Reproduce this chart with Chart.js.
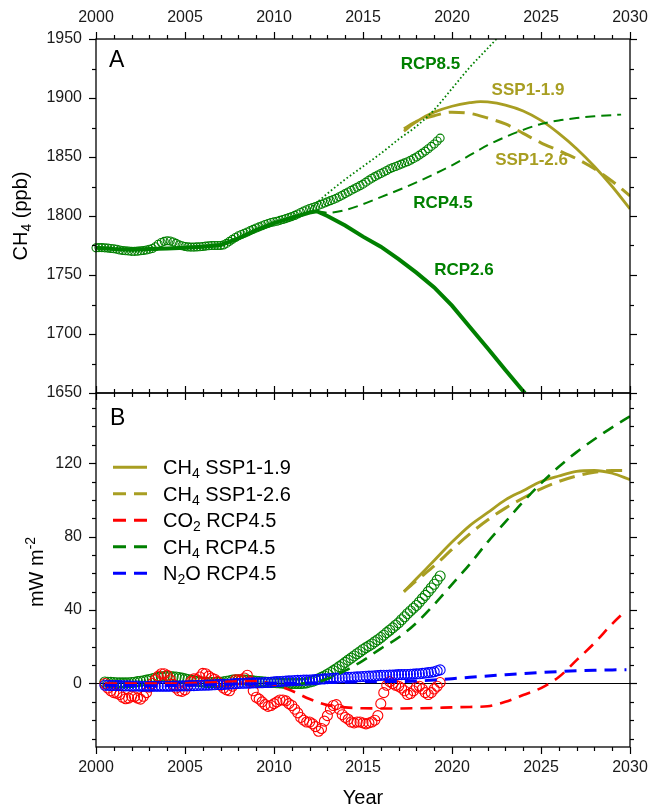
<!DOCTYPE html>
<html><head><meta charset="utf-8">
<script src="https://cdn.jsdelivr.net/npm/chart.js@4.4.0/dist/chart.umd.min.js"></script>
<style>
html,body{margin:0;padding:0;background:#fff;width:648px;height:807px;overflow:hidden}
#wrap{position:relative;width:648px;height:807px}
canvas{position:absolute;left:0}
#cA{top:0}
#cB{top:366px}
</style></head><body>
<div id="wrap"><canvas id="cA" width="648" height="420"></canvas><canvas id="cB" width="648" height="441"></canvas></div>
<script>
// ---------------- DATA ----------------
const xTicks = [2000, 2005, 2010, 2015, 2020, 2025, 2030];
const yTicksA = [1650, 1700, 1750, 1800, 1850, 1900, 1950];
const yTicksB = [0, 40, 80, 120];

// Panel A: observed CH4 (ppb), every 2 months from 2000.0
const obsStartA = 2000.0;
const obsCH4A = [
1773.0,1773.2,1773.2,1773.0,1772.8,1772.5,
1772.2,1771.8,1771.2,1770.8,1770.5,1770.3,
1770.0,1770.0,1770.2,1770.5,1770.8,1771.2,
1771.8,1772.5,1774.0,1776.0,1777.5,1778.5,
1779.0,1778.8,1778.0,1776.8,1775.5,1774.8,
1774.2,1773.8,1773.6,1773.6,1773.8,1774.0,
1774.2,1774.5,1774.8,1775.0,1775.0,1775.0,
1775.0,1775.5,1776.8,1778.5,1780.2,1781.8,
1783.2,1784.3,1785.4,1786.5,1787.6,1788.7,
1789.8,1790.8,1791.8,1792.8,1793.7,1794.5,
1795.0,1795.6,1796.3,1797.0,1797.8,1798.6,
1799.5,1800.5,1801.7,1803.0,1804.2,1805.3,
1806.3,1807.2,1808.1,1809.0,1810.0,1811.0,
1812.0,1813.0,1814.0,1815.0,1816.3,1817.6,
1819.0,1820.3,1821.7,1823.0,1824.4,1825.7,
1827.0,1828.7,1830.4,1832.0,1833.4,1834.7,
1836.0,1837.3,1838.6,1840.0,1841.0,1842.0,
1843.0,1844.0,1845.0,1846.0,1847.3,1848.6,
1850.0,1851.6,1853.3,1855.0,1857.0,1859.0,
1861.0,1863.5,1866.0];

const rcp26Years = [2000,2001,2002,2003,2004,2005,2006,2007,2008,2009,2010,2011,2012,2012.4,2013,2014,2015,2016,2017,2018,2019,2020,2021,2022,2023,2024,2024.1];
const rcp26CH4  = [1773,1772,1771.5,1772,1772.5,1773,1774,1775.5,1781,1788,1794,1798.5,1803,1804,1800,1792,1782.5,1774,1763.5,1752,1739.5,1724,1706,1688,1669.5,1651.5,1650];

const rcp45Years = [2012.4,2013,2014,2015,2016,2017,2018,2019,2020,2021,2022,2023,2024,2025,2026,2027,2028,2029,2029.5];
const rcp45CH4  = [1804,1802.8,1805,1810,1816,1822,1828.5,1835.5,1843,1851.5,1860,1867,1873,1878,1881,1883,1884.5,1885.5,1886];

const rcp85Years = [2012.0,2013,2014,2015,2016,2017,2018,2019,2020,2021,2022,2023];
const rcp85CH4  = [1806,1819,1831,1842,1853,1865,1876,1890,1908,1926,1942,1958];

const ssp119Years = [2017.3,2018,2019,2020,2021,2021.6,2022,2023,2024,2025,2026,2027,2028,2029,2030];
const ssp119CH4  = [1872,1880,1888,1893,1896,1897,1896.7,1894,1889,1881,1870,1857,1842,1825,1806];

const ssp126Years = [2017.3,2018,2019,2020,2021,2022,2023,2024,2025,2026,2027,2028,2029,2030];
const ssp126CH4  = [1874,1880,1885,1888,1887,1883,1878,1870,1862,1855.5,1848.5,1840,1829.5,1817];

// Panel B: observed radiative forcing trends (mW m-2), every 2 months from 2000.5
const obsStartB = 2000.5;
const obsCH4B = [
0.8,0.7,0.6,
0.5,0.4,0.3,0.3,0.3,0.4,
0.5,0.7,1.0,1.2,1.5,1.8,
2.2,2.6,3.0,3.3,3.6,3.8,
3.8,3.8,3.6,3.5,3.2,2.9,
2.5,2.2,1.8,1.5,1.2,1.0,
0.8,0.6,0.5,0.5,0.5,0.6,
0.7,0.9,1.2,1.5,1.8,2.0,
2.0,2.0,1.9,1.8,1.6,1.4,
1.2,1.0,0.9,0.8,0.7,0.6,
0.5,0.4,0.3,0.2,0.1,0.0,
0.0,0.0,0.0,0.0,0.1,0.3,
0.8,1.2,1.8,2.5,3.3,4.1,
5.0,6.0,7.0,8.0,9.2,10.3,
11.5,12.7,13.8,15.0,16.2,17.3,
18.5,19.5,20.5,21.5,22.7,23.8,
25.0,26.3,27.7,29.0,30.3,31.7,
33.0,34.7,36.3,38.0,39.5,41.0,
42.5,44.3,46.2,48.0,50.0,52.0,
54.0,56.3,58.5];
const obsCO2B = [
0,-2.5,-4,
-5,-5.3,-6,-7.5,-8.3,-8,
-7,-7.2,-8,-8.5,-7,-5,
-2,0,2,4,5.3,5.3,
4.5,2,-0.5,-2.5,-4,-4.3,
-3.5,-1,1,2.5,2,3.5,
5.5,5.3,4,3,2.3,1,
-1,-2.5,-3.5,-4,-1.5,2,
2,2,3,4.5,1,-4,
-7.5,-8.5,-10,-11.5,-12.5,-12,
-11,-10,-9,-9,-9.5,-11,
-12,-14,-16,-18.5,-20,-21,
-21,-22,-23.5,-26,-24.5,-20.5,
-17.5,-14,-12,-11.5,-14,-17,
-18.5,-19.5,-21,-21.5,-21,-21,
-21.5,-22,-21.5,-21,-20,-17.5,
-11,-5,-1,1,0,-1,
-1.5,-2.5,-4,-6,-5.5,-4,
-2,-1.5,-3,-5,-6,-5,
-3,-1.5,0.5];
const obsN2OB = [
-1.0,-1.0,-1.1,
-1.1,-1.2,-1.2,-1.3,-1.3,-1.3,
-1.4,-1.4,-1.4,-1.5,-1.5,-1.5,
-1.5,-1.5,-1.5,-1.5,-1.5,-1.5,
-1.5,-1.5,-1.4,-1.4,-1.4,-1.3,
-1.3,-1.3,-1.2,-1.2,-1.1,-1.0,
-1.0,-0.9,-0.9,-0.8,-0.7,-0.6,
-0.6,-0.5,-0.4,-0.3,-0.2,-0.1,
0.0,0.1,0.1,0.2,0.2,0.3,
0.3,0.4,0.4,0.5,0.5,0.6,
0.9,1.0,1.1,1.2,1.3,1.4,
1.5,1.6,1.7,1.7,1.8,1.8,
1.9,2.0,2.1,2.3,2.4,2.5,
2.6,2.7,2.8,2.9,3.0,3.1,
3.2,3.3,3.4,3.5,3.6,3.7,
3.8,3.9,4.0,4.1,4.2,4.3,
4.4,4.5,4.5,4.6,4.6,4.7,
4.8,4.8,4.9,4.9,5.0,5.1,
5.2,5.3,5.5,5.7,5.9,6.1,
6.4,6.9,7.4];

const b119Years = [2017.3,2018,2019,2020,2021,2022,2023,2024,2025,2026,2027,2028,2029,2030];
const b119CH4  = [50,57,67,77,86,93,100,105,110,113,115.5,116,114.5,111];
const b126Years = [2017.3,2018,2019,2020,2021,2022,2023,2024,2025,2026,2027,2028,2029,2030];
const b126CH4  = [50,56,64,73,81.5,89,95.5,101,106,110,113,115,116,116];
const b45CH4Years = [2011.5,2012.3,2013,2014,2015,2016,2017,2018,2019,2020,2021,2022,2023,2024,2025,2026,2027,2028,2029,2030];
const b45CH4  = [0,0.5,2.5,7,12.5,19,25,33,43,54,65,77,88,99,109,118,126,133,139.5,145.5];
const b45CO2Years = [2000.5,2002,2004,2006,2007,2008,2009,2010,2011,2012,2013,2014,2015,2016,2017,2018,2019,2020,2021,2022,2023,2024,2025,2026,2027,2028,2029,2029.8];
const b45CO2  = [0,0,0,0.3,0.7,1.2,1.2,-0.5,-4,-8.5,-11.8,-13,-13.5,-13.6,-13.6,-13.5,-13.3,-13,-12.8,-12.4,-10,-6.3,-2.5,3.5,12.7,22,32.5,40];
const b45N2OYears = [2000.5,2003,2006,2008,2010,2012,2014,2016,2018,2019,2020,2021,2022,2023,2024,2025,2026,2027,2028,2029,2029.8];
const b45N2O  = [-1,-1.2,-0.8,-0.3,0,0.3,0.7,1.0,1.3,1.9,2.6,3.4,4.1,4.8,5.4,6.0,6.5,6.9,7.2,7.4,7.5];

// ---------------- STYLE / HELPERS ----------------
const FONT = '"Liberation Sans", Arial, Helvetica, sans-serif';
Chart.defaults.font.family = FONT;
const GREEN = '#008000', OLIVE = '#a89e22', RED = '#ff0000', BLUE = '#0000ff';
const pts = (xs, ys) => xs.map((x, i) => ({x: x, y: ys[i]}));
const regYears = (start, n) => Array.from({length: n}, (_, i) => start + i / 6);

function richText(ctx, segs, x, y, align, size, color) {
  ctx.save();
  ctx.fillStyle = color || '#000';
  ctx.textBaseline = 'alphabetic';
  ctx.textAlign = 'left';
  const fnt = (s) => s.sub || s.sup ? (size * 0.7) + 'px ' + FONT : (s.bold ? 'bold ' : '') + size + 'px ' + FONT;
  let total = 0;
  segs.forEach(s => { ctx.font = fnt(s); s.w = ctx.measureText(s.t).width; total += s.w; });
  let cx = align === 'center' ? x - total / 2 : x;
  segs.forEach(s => {
    ctx.font = fnt(s);
    const dy = s.sub ? size * 0.2 : (s.sup ? -size * 0.42 : 0);
    ctx.fillText(s.t, cx, y + dy);
    cx += s.w;
  });
  ctx.restore();
}

function tickSet(majors, lo, hi, step) {
  const m = [];
  for (let v = lo; v <= hi + 1e-9; v += step) { if (!majors.some(t => Math.abs(t - v) < 1e-6)) m.push(v); }
  return m;
}
function drawTickMarks(chart, scaleId, side, majors, minors) {
  const s = chart.scales[scaleId], a = chart.chartArea, ctx = chart.ctx;
  ctx.save(); ctx.strokeStyle = '#000'; ctx.lineWidth = 1.2;
  const one = (v, len) => {
    const p = Math.round(s.getPixelForValue(v)) + 0.5;
    ctx.beginPath();
    if (side === 'top') { ctx.moveTo(p, a.top); ctx.lineTo(p, a.top - len); }
    else if (side === 'bottom') { ctx.moveTo(p, a.bottom); ctx.lineTo(p, a.bottom + len); }
    else if (side === 'left') { ctx.moveTo(a.left, p); ctx.lineTo(a.left - len, p); }
    else { ctx.moveTo(a.right, p); ctx.lineTo(a.right + len, p); }
    ctx.stroke();
  };
  majors.forEach(v => one(v, 7));
  minors.forEach(v => one(v, 4));
  ctx.restore();
}
function drawXLabels(chart, yCenter) {
  const s = chart.scales.x, ctx = chart.ctx;
  ctx.save(); ctx.fillStyle = '#1a1a1a'; ctx.font = '16px ' + FONT;
  ctx.textAlign = 'center'; ctx.textBaseline = 'middle';
  xTicks.forEach(v => ctx.fillText(String(v), s.getPixelForValue(v), yCenter));
  ctx.restore();
}
function drawFrame(chart) {
  const a = chart.chartArea, ctx = chart.ctx;
  ctx.save(); ctx.strokeStyle = '#000'; ctx.lineWidth = 1.3;
  ctx.strokeRect(a.left, a.top, a.right - a.left, a.bottom - a.top);
  ctx.restore();
}
function xScale(pos, h) {
  return {
    type: 'linear', position: pos, min: 2000, max: 2030,
    afterBuildTicks: s => { s.ticks = xTicks.map(v => ({value: v})); },
    ticks: {display: false},
    grid: {display: false, drawTicks: false}, border: {display: false},
    afterFit: s => { s.height = h; }
  };
}
function yScale(pos, w, lo, hi, tks, labels) {
  return {
    type: 'linear', position: pos, min: lo, max: hi,
    afterBuildTicks: s => { s.ticks = tks.map(v => ({value: v})); },
    ticks: {display: labels, callback: v => String(v), padding: 14, font: {size: 16}, color: '#1a1a1a', autoSkip: false},
    grid: {display: false, drawTicks: false}, border: {display: false},
    afterFit: s => { s.width = w; }
  };
}
function lineDs(data, color, width, dash, order, mode) {
  return {data: data, showLine: true, borderColor: color, borderWidth: width, borderDash: dash || [],
    pointRadius: 0, fill: false, order: order, clip: 0,
    tension: mode === 'straight' ? 0 : 0.4, cubicInterpolationMode: mode === 'straight' ? 'default' : 'monotone'};
}
function obsDs(data, color, r, order) {
  return {data: data, showLine: false, pointStyle: 'circle', pointRadius: r, pointBorderWidth: 1.1,
    pointBorderColor: color, pointBackgroundColor: 'rgba(0,0,0,0)', order: order, clip: false};
}

// ---------------- PANEL A ----------------
const labelsA = [
  {t: 'RCP8.5', x: 2018.79, y: 1929.2, c: GREEN},
  {t: 'SSP1-1.9', x: 2024.27, y: 1907.6, c: OLIVE},
  {t: 'SSP1-2.6', x: 2024.47, y: 1848.3, c: OLIVE},
  {t: 'RCP4.5', x: 2019.49, y: 1811.4, c: GREEN},
  {t: 'RCP2.6', x: 2020.67, y: 1754.7, c: GREEN}
];
const decorA = {
  id: 'decorA',
  afterDatasetsDraw(chart) {
    const ctx = chart.ctx, a = chart.chartArea, sx = chart.scales.x, sy = chart.scales.y;
    drawFrame(chart);
    const minX = tickSet(xTicks, 2000, 2030, 1);
    drawTickMarks(chart, 'x', 'top', xTicks, minX);
    drawTickMarks(chart, 'x', 'bottom', xTicks, minX);
    const minY = tickSet(yTicksA, 1650, 1950, 25);
    drawTickMarks(chart, 'y', 'left', yTicksA, minY);
    drawTickMarks(chart, 'y', 'right', yTicksA, minY);
    drawXLabels(chart, a.top - 21);
    ctx.save();
    ctx.font = 'bold 17px ' + FONT; ctx.textAlign = 'center'; ctx.textBaseline = 'middle';
    labelsA.forEach(l => { ctx.fillStyle = l.c; ctx.fillText(l.t, sx.getPixelForValue(l.x), sy.getPixelForValue(l.y) + 1); });
    ctx.fillStyle = '#000'; ctx.font = '23px ' + FONT; ctx.textAlign = 'left'; ctx.textBaseline = 'alphabetic';
    ctx.fillText('A', a.left + 13, a.top + 27.7);
    ctx.restore();
    ctx.save();
    ctx.translate(27.3, (a.top + a.bottom) / 2);
    ctx.rotate(-Math.PI / 2);
    richText(ctx, [{t: 'CH'}, {t: '4', sub: 1}, {t: ' (ppb)'}], 0, 0, 'center', 20, '#000');
    ctx.restore();
  }
};
new Chart(document.getElementById('cA'), {
  type: 'scatter',
  data: {datasets: [
    obsDs(pts(regYears(obsStartA, obsCH4A.length), obsCH4A), GREEN, 4, 10),
    lineDs(pts(rcp26Years, rcp26CH4), GREEN, 4, [], 1, 'straight'),
    lineDs(pts(rcp45Years, rcp45CH4), GREEN, 2, [10, 6], 2),
    lineDs(pts(rcp85Years, rcp85CH4), GREEN, 1.8, [1.6, 2.4], 3),
    lineDs(pts(ssp119Years, ssp119CH4), OLIVE, 2.8, [], 4),
    lineDs(pts(ssp126Years, ssp126CH4), OLIVE, 3, [16, 8], 5)
  ]},
  options: {
    responsive: false, animation: false, devicePixelRatio: 1, events: [],
    layout: {padding: 0},
    plugins: {legend: {display: false}, tooltip: {enabled: false}},
    scales: {
      x: xScale('top', 39),
      xb: xScale('bottom', 27),
      y: yScale('left', 96, 1650, 1950, yTicksA, true),
      yr: yScale('right', 18, 1650, 1950, yTicksA, false)
    }
  },
  plugins: [decorA]
});

// ---------------- PANEL B ----------------
const legendB = [
  {segs: [{t: 'CH'}, {t: '4', sub: 1}, {t: ' SSP1-1.9'}], c: OLIVE, dash: []},
  {segs: [{t: 'CH'}, {t: '4', sub: 1}, {t: ' SSP1-2.6'}], c: OLIVE, dash: [13, 8]},
  {segs: [{t: 'CO'}, {t: '2', sub: 1}, {t: ' RCP4.5'}], c: RED, dash: [13, 8]},
  {segs: [{t: 'CH'}, {t: '4', sub: 1}, {t: ' RCP4.5'}], c: GREEN, dash: [13, 8]},
  {segs: [{t: 'N'}, {t: '2', sub: 1}, {t: 'O RCP4.5'}], c: BLUE, dash: [13, 8]}
];
const decorB = {
  id: 'decorB',
  beforeDatasetsDraw(chart) {
    const ctx = chart.ctx, a = chart.chartArea, sy = chart.scales.y;
    const p = Math.round(sy.getPixelForValue(0)) + 0.5;
    ctx.save(); ctx.strokeStyle = '#000'; ctx.lineWidth = 1;
    ctx.beginPath(); ctx.moveTo(a.left, p); ctx.lineTo(a.right, p); ctx.stroke();
    ctx.restore();
  },
  afterDatasetsDraw(chart) {
    const ctx = chart.ctx, a = chart.chartArea;
    drawFrame(chart);
    const minX = tickSet(xTicks, 2000, 2030, 1);
    drawTickMarks(chart, 'x', 'top', xTicks, minX);
    drawTickMarks(chart, 'x', 'bottom', xTicks, minX);
    const minY = tickSet(yTicksB, -30, 150, 10);
    drawTickMarks(chart, 'y', 'left', yTicksB, minY);
    drawTickMarks(chart, 'y', 'right', yTicksB, minY);
    drawXLabels(chart, a.bottom + 20.5);
    ctx.save();
    ctx.fillStyle = '#000'; ctx.font = '23px ' + FONT; ctx.textAlign = 'left'; ctx.textBaseline = 'alphabetic';
    ctx.fillText('B', a.left + 14, a.top + 32);
    ctx.restore();
    legendB.forEach((l, i) => {
      const y = a.top + 74.3 + i * 26.5;
      ctx.save();
      ctx.strokeStyle = l.c; ctx.lineWidth = 3; ctx.setLineDash(l.dash); ctx.lineCap = 'butt';
      ctx.beginPath(); ctx.moveTo(a.left + 17, y); ctx.lineTo(a.left + 51, y); ctx.stroke();
      ctx.restore();
      richText(ctx, l.segs, a.left + 67, y + 7, 'left', 20, '#000');
    });
    ctx.save();
    ctx.translate(43.3, (a.top + a.bottom) / 2 + 2);
    ctx.rotate(-Math.PI / 2);
    richText(ctx, [{t: 'mW m'}, {t: '-2', sup: 1}], 0, 0, 'center', 20, '#000');
    ctx.restore();
    richText(ctx, [{t: 'Year'}], (a.left + a.right) / 2, a.bottom + 57, 'center', 20, '#000');
  }
};
new Chart(document.getElementById('cB'), {
  type: 'scatter',
  data: {datasets: [
    obsDs(pts(regYears(obsStartB, obsCH4B.length), obsCH4B), GREEN, 5, 12),
    obsDs(pts(regYears(obsStartB, obsCO2B.length), obsCO2B), RED, 5, 11),
    obsDs(pts(regYears(obsStartB, obsN2OB.length), obsN2OB), BLUE, 5, 10),
    lineDs(pts(b119Years, b119CH4), OLIVE, 2.8, [], 5),
    lineDs(pts(b126Years, b126CH4), OLIVE, 3, [16, 8], 4),
    lineDs(pts(b45CH4Years, b45CH4), GREEN, 2.6, [12, 8], 3),
    lineDs(pts(b45CO2Years, b45CO2), RED, 2.6, [12, 8], 2),
    lineDs(pts(b45N2OYears, b45N2O), BLUE, 3, [12, 8], 1)
  ]},
  options: {
    responsive: false, animation: false, devicePixelRatio: 1, events: [],
    layout: {padding: 0},
    plugins: {legend: {display: false}, tooltip: {enabled: false}},
    scales: {
      x: xScale('bottom', 60),
      xt: xScale('top', 27),
      y: yScale('left', 96, -34.6, 158.2, yTicksB, true),
      yr: yScale('right', 18, -34.6, 158.2, yTicksB, false)
    }
  },
  plugins: [decorB]
});
</script>
</body></html>
